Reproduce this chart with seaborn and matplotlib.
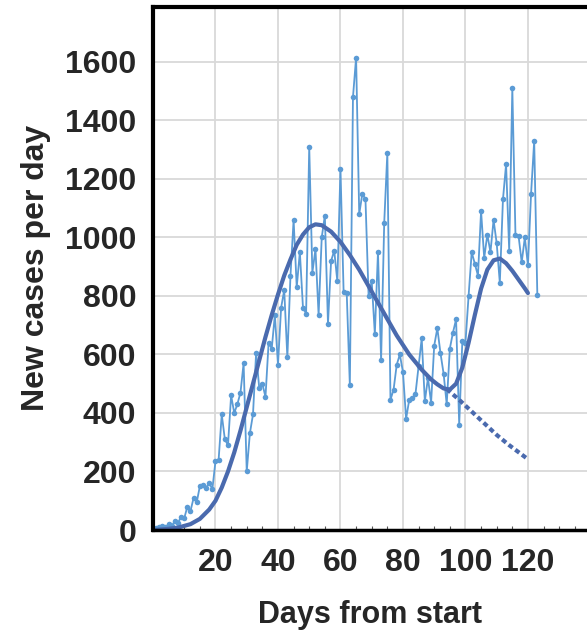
import matplotlib
matplotlib.use('Agg')
import matplotlib.pyplot as plt
from matplotlib.ticker import MultipleLocator
import seaborn as sns
import pandas as pd

# daily new cases, day 0 .. 123
days = list(range(124))
new_cases = [
    5, 8, 10, 12, 10, 20, 15, 30, 25, 45,
    40, 80, 65, 110, 95, 150, 155, 145, 160, 140,
    235, 240, 395, 310, 290, 460, 400, 430, 470, 570,
    200, 330, 395, 605, 485, 500, 455, 640, 620, 735,
    565, 760, 820, 590, 870, 1060, 830, 950, 760, 740,
    1310, 880, 960, 735, 1000, 1075, 705, 920, 955, 850,
    1235, 815, 810, 495, 1480, 1615, 1080, 1150, 1130, 800,
    850, 670, 950, 580, 1050, 1290, 445, 480, 565, 600,
    540, 380, 445, 450, 465, 560, 655, 440, 520, 435,
    630, 690, 605, 535, 430, 620, 675, 720, 360, 645,
    640, 800, 950, 910, 870, 1090, 930, 1010, 950, 1060,
    980, 845, 1130, 1250, 955, 1510, 1010, 1005, 915, 1000,
    905, 1150, 1330, 805,
]

# fitted model (solid) and first-wave projection (dashed)
fit_days = [0, 4, 8, 12, 15, 18, 20, 22, 24, 26, 28, 30, 32, 34, 36, 38, 40,
            42, 44, 46, 48, 50, 52, 54, 57, 60, 63, 66, 70, 74, 78, 82, 86,
            89, 91, 93, 95, 97, 99, 101, 103, 105, 107, 109, 111, 113, 115,
            117, 119, 120]
fit_cases = [0, 3, 8, 20, 38, 70, 100, 145, 200, 265, 340, 420, 500, 580,
             660, 735, 805, 870, 925, 975, 1010, 1035, 1045, 1042, 1020, 985,
             940, 890, 815, 740, 665, 600, 548, 515, 498, 484, 480, 500, 555,
             640, 735, 825, 890, 922, 928, 912, 886, 856, 826, 810]
proj_days = [94, 98, 102, 106, 110, 114, 118, 120]
proj_cases = [482, 445, 405, 365, 325, 290, 258, 242]

data = pd.DataFrame({'day': days, 'cases': new_cases})
fit = pd.DataFrame({'day': fit_days, 'cases': fit_cases})
proj = pd.DataFrame({'day': proj_days, 'cases': proj_cases})

sns.set_style('whitegrid')
plt.rcParams['font.family'] = ['Liberation Sans', 'DejaVu Sans']

fig = plt.figure(figsize=(5.87, 6.4), dpi=100)
ax = fig.add_axes([153 / 587, 110 / 640, 434 / 587, 523.3 / 640])

data_col = '#5b9bd5'
fit_col = '#4a6aae'
sns.lineplot(data=data, x='day', y='cases', ax=ax, color=data_col, lw=1.3,
             marker='o', markersize=4, markeredgewidth=0, errorbar=None)
sns.lineplot(data=fit, x='day', y='cases', ax=ax, color=fit_col, lw=3,
             errorbar=None)
sns.lineplot(data=proj, x='day', y='cases', ax=ax, color=fit_col, lw=3,
             linestyle=(0, (1.2, 0.8)), errorbar=None)

ax.set_xlim(0, 138.9)
ax.set_ylim(0, 1789)
ax.set_xticks([0, 20, 40, 60, 80, 100, 120])
ax.set_xticklabels(['', '20', '40', '60', '80', '100', '120'])
ax.set_yticks(range(0, 1601, 200))
ax.xaxis.set_minor_locator(MultipleLocator(5))
ax.grid(True, which='major', color='#d9d9d9', lw=1.3)
ax.grid(False, which='minor')

ax.tick_params(axis='x', which='major', direction='in', length=5, width=1,
               color='#555555', pad=13, labelsize=23)
ax.tick_params(axis='x', which='minor', direction='in', length=3, width=0.8,
               color='#555555', bottom=True)
ax.tick_params(axis='y', which='major', direction='in', length=3, width=1,
               color='#999999', pad=12, labelsize=23)
for lab in ax.get_xticklabels() + ax.get_yticklabels():
    lab.set_fontweight('bold')

for side in ['left', 'top', 'bottom']:
    ax.spines[side].set_visible(True)
    ax.spines[side].set_color('black')
ax.spines['left'].set_linewidth(3)
ax.spines['top'].set_linewidth(3)
ax.spines['bottom'].set_linewidth(2.5)
ax.spines['right'].set_visible(False)

ax.set_xlabel('Days from start', fontsize=22, fontweight='bold', labelpad=16)
ax.set_ylabel('New cases per day', fontsize=23, fontweight='bold', labelpad=10)

fig.savefig('out.png', dpi=100)
